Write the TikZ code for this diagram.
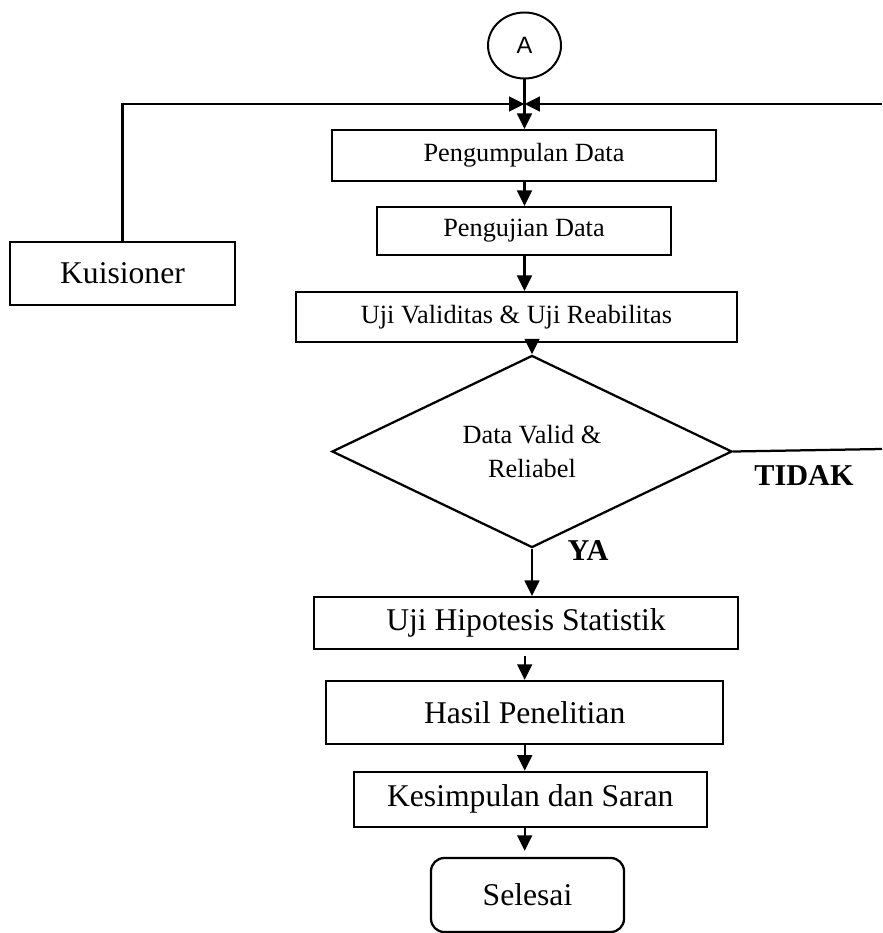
\documentclass[tikz,border=0pt]{standalone}
\usepackage{fontspec}
\setmainfont{Liberation Serif}
\newfontfamily\sansA{Liberation Sans}
\usetikzlibrary{arrows.meta,shapes.geometric}
\def\pxu{0.025cm}
\tikzset{
  box/.style={draw, line width=1.6pt, inner sep=0pt, align=center},
  smalltxt/.style={font=\fontsize{18.7}{24.8}\selectfont},
  bigtxt/.style={font=\fontsize{22.5}{27}\selectfont},
  arr/.style={line width=1.6pt, -{Triangle[length=11pt,width=10.5pt]}},
}

\begin{document}
\begin{tikzpicture}[x=0.025cm, y=-0.025cm]
\useasboundingbox (0,0) rectangle (882,933);

%start
	\node[draw, ellipse, line width=1.4pt, minimum width=73*\pxu, minimum height=66*\pxu, inner sep=0pt, font=\sansA\fontsize{16.8}{19}\selectfont] (A) at (524.5,45.5) {A};

%boxes
	\foreach \name/\xy/\w/\h/\txt in {{pengumpulan/(524,155.5)/384/51/Pengumpulan Data},{pengujian/(524,231)/294/48/Pengujian Data},{ujivalid/(516.5,317)/441/50/Uji Validitas \& Uji Reabilitas}} {
		\node[box, smalltxt, minimum width=\w*\pxu, minimum height=\h*\pxu] (\name) at \xy {\txt};
	}
	\foreach \name/\xy/\w/\h/\txt in {{kuisioner/(122.5,273.5)/225/63/Kuisioner},{ujihipo/(526,623)/424/52/Uji Hipotesis Statistik},{hasil/(524.7,712.5)/397/63/Hasil Penelitian},{kesimpulan/(530.3,799.3)/353/55/Kesimpulan dan Saran}} {
		\node[box, bigtxt, minimum width=\w*\pxu, minimum height=\h*\pxu] (\name) at \xy {\txt};
	}

%decision
	\node[box, diamond, smalltxt, minimum width=400*\pxu, minimum height=170*\pxu] (dv) at (532,451.5) {Data Valid \&\\Reliabel};
	\node[font=\bfseries\fontsize{21.5}{26}\selectfont] (tidak) at (804,476) {TIDAK};
	\node[font=\bfseries\fontsize{21.5}{26}\selectfont] (ya) at (588,551) {YA};

%end
	\node[box, bigtxt, rounded corners=0.33cm, minimum width=193*\pxu, minimum height=74*\pxu] (selesai) at (527.5,895) {Selesai};

%lines
	\coordinate (join) at (524.5,104);
	\coordinate (rightend) at (882,104);
	\coordinate (tidakend) at (882,449);

	\draw[arr] (kuisioner.north) |- (join);
	\draw[arr] (rightend) -- (join);
	\draw[arr] (A) -- (pengumpulan.north -| A);

	\foreach \a/\b in {pengumpulan/pengujian, pengujian/ujivalid}{
		\draw[arr] (\a.south -| A) -- (\b.north -| A);
	}
	\draw[arr] (ujivalid.south -| dv) -- (dv.north);
	\draw[arr] (dv.south) -- (ujihipo.north -| dv);
	\draw[line width=1.6pt] (dv.east) -- (tidakend);

	\draw[arr, shorten <=0.15cm] (ujihipo.south -| hasil) -- (hasil.north);
	\draw[arr] (hasil.south) -- (kesimpulan.north -| hasil);
	\draw[arr, shorten >=0.15cm] (kesimpulan.south -| hasil) -- (selesai.north -| hasil);

\end{tikzpicture}
\end{document}
